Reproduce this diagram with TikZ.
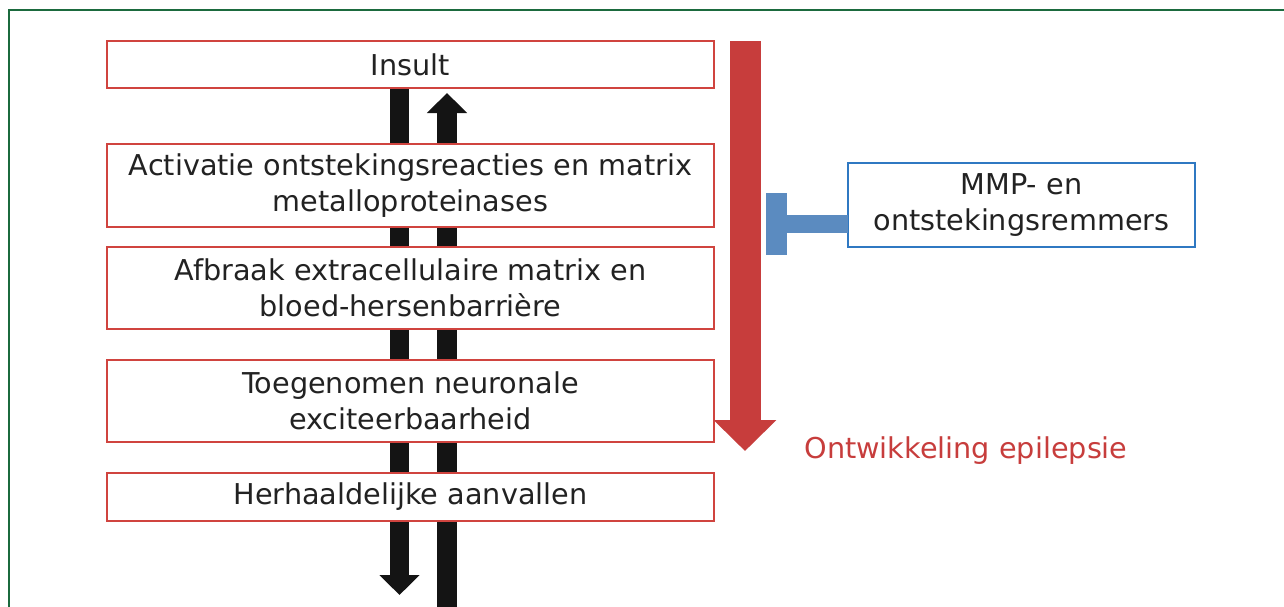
\documentclass[tikz,border=0pt]{standalone}
\usepackage{fontspec}
\setmainfont{DejaVu Sans}
\usetikzlibrary{positioning,arrows.meta}
\definecolor{framegreen}{HTML}{1B6A3E}
\definecolor{boxred}{HTML}{D0443F}
\definecolor{arrowred}{HTML}{C73D3C}
\definecolor{boxblue}{HTML}{2F78C2}
\definecolor{barblue}{HTML}{5B8BC0}
\definecolor{txtgray}{HTML}{222222}
\begin{document}
\begin{tikzpicture}[x=1pt,y=-1pt,
  step box/.style={draw=boxred,line width=2.6pt,fill=white,minimum width=607pt,
    align=center,text=txtgray,inner sep=0pt,outer sep=0pt,font=\fontsize{28.7}{36}\selectfont},
  black arrow/.style={line width=19.5pt,draw=black!92,-{Triangle[width=39pt,length=20pt]}}]

  \useasboundingbox (0,0) rectangle (1284,606);
  \draw[framegreen,line width=2.4pt] (9,620) -- (9,10) -- (1300,10);

  % arrows behind the boxes
  \coordinate (dtip) at (399.5,595);
  \coordinate (ubase) at (447,620);
  \coordinate (utip) at (447,93);
  \draw[black arrow] (399.5,88) -- (dtip);
  \draw[black arrow] (ubase) -- (utip);

  \node[step box,minimum height=47pt] (insult) at (410.5,64.5) {Insult};
  \node[step box,minimum height=83pt,below=56pt of insult] (activ)
    {Activatie ontstekingsreacties en matrix\\metalloproteinases};
  \node[step box,minimum height=82pt,below=20pt of activ] (afbraak)
    {Afbraak extracellulaire matrix en\\bloed-hersenbarrière};
  \node[step box,minimum height=82pt,below=31pt of afbraak] (exc)
    {Toegenomen neuronale\\exciteerbaarheid};
  \node[step box,minimum height=48pt,below=31pt of exc] (aanv)
    {Herhaaldelijke aanvallen};

  % ontwikkeling
  \coordinate (rtop) at (745,41);
  \coordinate (rtip) at (745,451);
  \draw[arrowred,line width=31pt,-{Triangle[width=61pt,length=31pt]}] (rtop) -- (rtip);
  \node[text=arrowred,font=\fontsize{28.7}{36}\selectfont] (ontw) at (966,451)
    {Ontwikkeling epilepsie};

  % remmers
  \node[draw=boxblue,line width=2.4pt,minimum width=347pt,minimum height=84pt,
    align=center,text=txtgray,inner sep=0pt,outer sep=0pt,font=\fontsize{28.7}{36}\selectfont]
    (mmp) at (1021.5,205) {MMP- en\\ontstekingsremmers};
  \coordinate (tbar) at (766,224);
  \draw[barblue,line width=18pt,-{Rectangle[length=21pt,width=62pt]}]
    (mmp.west |- tbar) -- (tbar);
\end{tikzpicture}
\end{document}
